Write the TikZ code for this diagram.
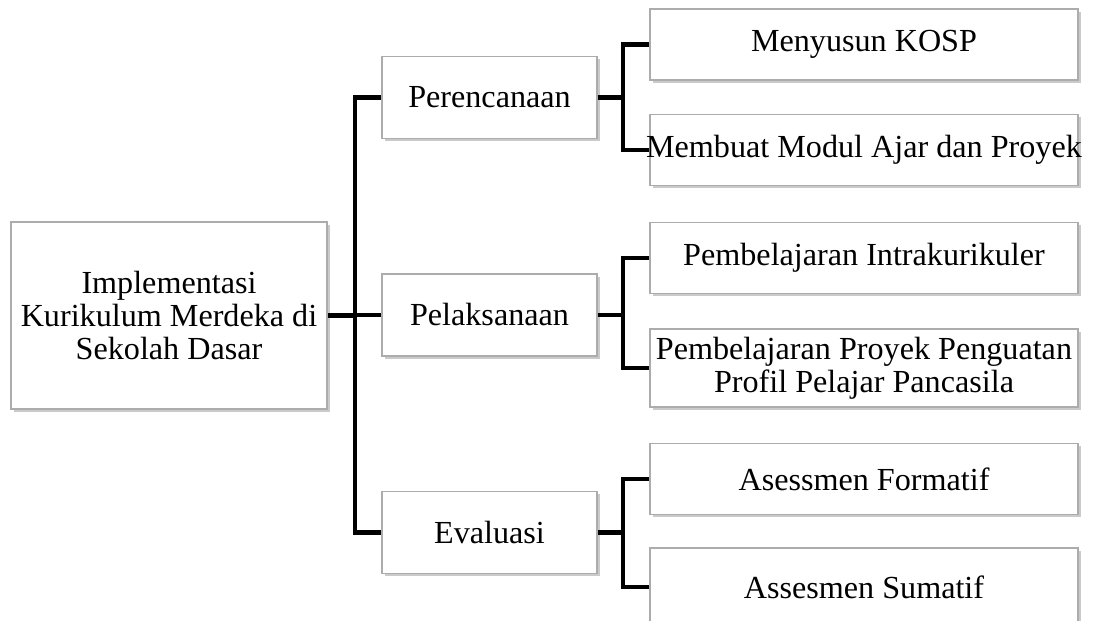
\documentclass[tikz,border=0pt]{standalone}
\usepackage{fontspec}
\setmainfont{Liberation Serif}
\usepackage{tikz}
\usetikzlibrary{shadows,positioning}

\begin{document}
\begin{tikzpicture}[x=0.02cm, y=-0.02cm,
        box/.style={draw=gray!65, line width=0.7pt, fill=white, align=center,
            inner sep=1pt, font=\fontsize{18.3}{19}\selectfont,
            drop shadow={shadow xshift=1.5pt, shadow yshift=-1.5pt, fill=gray!70, opacity=0.6}},
        midbox/.style={box, minimum width=4.3cm, minimum height=1.64cm},
        leafbox/.style={box, minimum width=8.56cm, minimum height=1.42cm},
        conn/.style={line width=2.8pt, black}
    ]
    \useasboundingbox (0,0) rectangle (1095,621);

    \node[box, minimum width=6.32cm, minimum height=3.74cm] (root) at (169,315.5)
        {Implementasi\\Kurikulum Merdeka di\\Sekolah Dasar};

    \node[midbox] (plan) at (489.5,97.5) {Perencanaan};
    \node[midbox] (exec) at (489.5,315) {Pelaksanaan};
    \node[midbox] (eval) at (489.5,532.5) {Evaluasi};

    \node[leafbox] (kosp)  at (864,44.5) {Menyusun KOSP};
    \node[leafbox, inner xsep=-5pt] (modul) at (864,150) {Membuat Modul Ajar dan Proyek};
    \node[leafbox] (intra) at (864,258) {Pembelajaran Intrakurikuler};
    \node[leafbox, minimum height=1.56cm] (p5) at (864,368)
        {Pembelajaran Proyek Penguatan\\Profil Pelajar Pancasila};
    \node[leafbox] (form)  at (864,479) {Asessmen Formatif};
    \node[leafbox, minimum height=1.56cm] (sum) at (864,587) {Assesmen Sumatif};

    \coordinate (spine) at (355,315.5);
    \coordinate (bplan) at (623,97.5);
    \coordinate (bexec) at (623,315);
    \coordinate (beval) at (623,532.5);

    % root to the three stages
    \draw[conn] (root) -- (spine);
    \draw[conn] (spine) |- (plan);
    \draw[conn] (spine) |- (exec);
    \draw[conn] (spine) |- (eval);

    % stages to their items
    \draw[conn] (plan) -- (bplan);
    \draw[conn] (kosp.west) -| (bplan) |- (modul.west);
    \draw[conn] (exec) -- (bexec);
    \draw[conn] (intra.west) -| (bexec) |- (p5.west);
    \draw[conn] (eval) -- (beval);
    \draw[conn] (form.west) -| (beval) |- (sum.west);
\end{tikzpicture}
\end{document}
